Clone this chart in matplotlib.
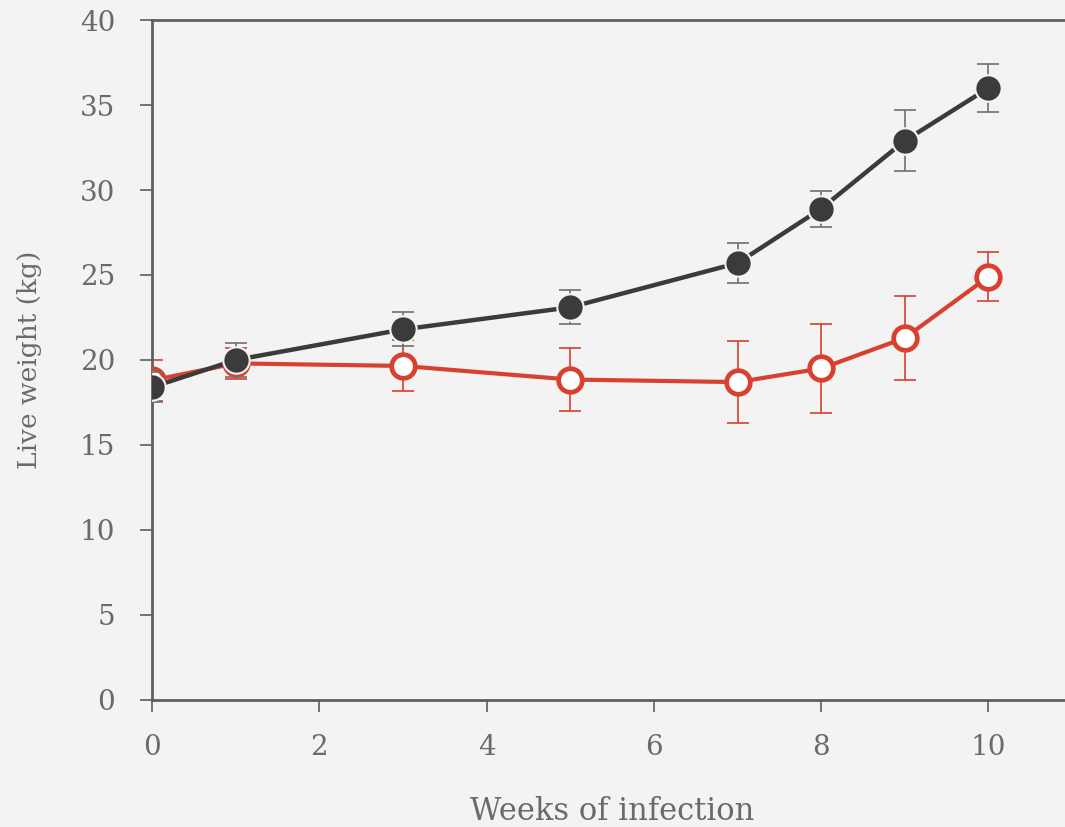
import matplotlib
matplotlib.use("Agg")
import matplotlib.pyplot as plt

weeks = [0, 1, 3, 5, 7, 8, 9, 10]

# filled circles (black)
black_mean = [18.4, 20.0, 21.8, 23.1, 25.7, 28.9, 32.9, 36.0]
black_err = [0.9, 1.0, 1.0, 1.0, 1.2, 1.05, 1.8, 1.4]

# open circles (red)
red_mean = [18.8, 19.8, 19.65, 18.85, 18.7, 19.5, 21.3, 24.9]
red_err = [1.2, 0.9, 1.5, 1.85, 2.4, 2.6, 2.45, 1.45]

bg = "#f3f3f3"
dark = "#3b3b3b"
red = "#d8402f"
axis_col = "#5e5e5e"
text_col = "#6a6a6a"

plt.rcParams["font.family"] = ["DejaVu Serif"]

fig = plt.figure(figsize=(10.65, 8.27), dpi=100, facecolor=bg)
ax = fig.add_axes([0.1427, 0.1536, 0.8640, 0.8222])
ax.set_facecolor(bg)

# red series (open) drawn first so black sits on top
ax.errorbar(weeks, red_mean, yerr=red_err, fmt="none", ecolor=red,
            elinewidth=1.2, capsize=8, capthick=1.2, zorder=2)
ax.plot(weeks, red_mean, color=red, lw=3, marker="o", markersize=17,
        markerfacecolor="white", markeredgecolor=red, markeredgewidth=3.4,
        zorder=3)

ax.errorbar(weeks, black_mean, yerr=black_err, fmt="none", ecolor="#707070",
            elinewidth=1.2, capsize=8, capthick=1.2, zorder=4)
ax.plot(weeks, black_mean, color=dark, lw=3.2, marker="o", markersize=19,
        markerfacecolor=dark, markeredgecolor=bg, markeredgewidth=1.5,
        zorder=5)

ax.set_xlim(0, 11)
ax.set_ylim(0, 40)
ax.set_xticks([0, 2, 4, 6, 8, 10])
ax.set_yticks(range(0, 41, 5))

for side in ["left", "bottom", "top", "right"]:
    ax.spines[side].set_color(axis_col)
    ax.spines[side].set_linewidth(2)

ax.tick_params(direction="out", length=8.5, width=1.2, color=axis_col,
               labelsize=20, labelcolor=text_col)
ax.tick_params(axis="y", pad=18)
ax.tick_params(axis="x", pad=16)

ax.set_xlabel("Weeks of infection", fontsize=22, color=text_col, labelpad=25)
ax.set_ylabel("Live weight (kg)", fontsize=19, color=text_col, labelpad=27)

fig.savefig("out.png", dpi=100, facecolor=bg)
